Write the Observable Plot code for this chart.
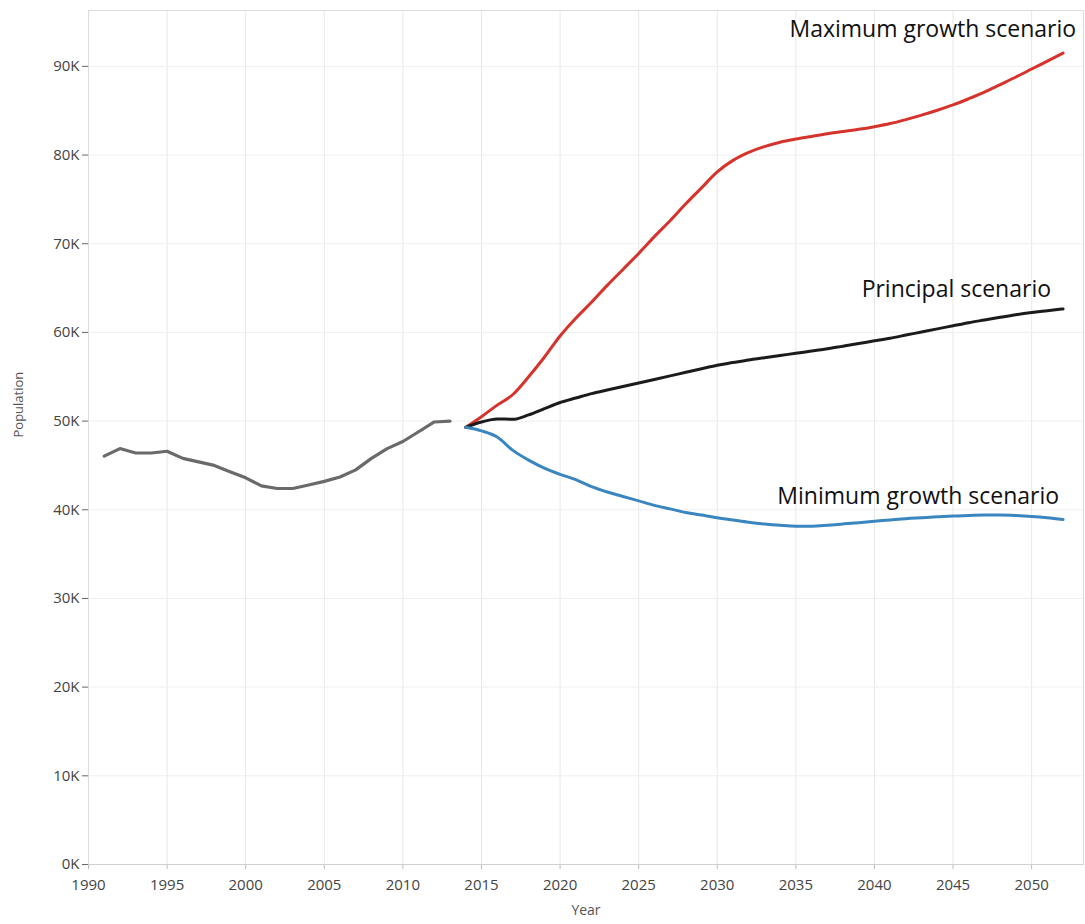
<!DOCTYPE html>
<html>
<head>
<meta charset="utf-8">
<script src="https://cdn.jsdelivr.net/npm/d3@7"></script>
<script src="https://cdn.jsdelivr.net/npm/@observablehq/plot@0.6"></script>
<style>
  html, body { margin: 0; padding: 0; background: #fff; }
  #chart svg { display: block; }
</style>
</head>
<body>
<div id="chart"></div>
<script>
// Historical population (thousands)
const histYears = [1991,1992,1993,1994,1995,1996,1997,1998,1999,2000,2001,2002,2003,2004,2005,2006,2007,2008,2009,2010,2011,2012,2013];
const histValues = [46.05,46.9,46.4,46.4,46.6,45.8,45.4,45.0,44.3,43.6,42.7,42.4,42.4,42.8,43.2,43.7,44.5,45.8,46.9,47.7,48.8,49.9,50.0];

// Projection years
const projYears = [2014,2015,2016,2017,2018,2019,2020,2021,2022,2023,2024,2025,2026,2027,2028,2029,2030,2031,2032,2033,2034,2035,2036,2037,2038,2039,2040,2041,2042,2043,2044,2045,2046,2047,2048,2049,2050,2051,2052];
const maxValues = [49.3,50.5,51.8,53.0,55.0,57.2,59.6,61.6,63.4,65.3,67.1,68.9,70.8,72.6,74.5,76.3,78.1,79.4,80.3,80.95,81.45,81.8,82.1,82.4,82.65,82.9,83.2,83.55,84.0,84.5,85.05,85.65,86.35,87.1,87.95,88.8,89.7,90.6,91.5];
const principalValues = [49.3,49.9,50.25,50.2,50.7,51.4,52.1,52.6,53.1,53.5,53.9,54.3,54.7,55.1,55.5,55.9,56.3,56.6,56.9,57.15,57.4,57.65,57.9,58.15,58.45,58.75,59.05,59.35,59.7,60.05,60.4,60.75,61.1,61.4,61.7,62.0,62.25,62.45,62.65];
const minValues = [49.3,48.9,48.2,46.7,45.6,44.7,44.0,43.4,42.6,42.0,41.5,41.0,40.5,40.1,39.7,39.4,39.1,38.85,38.6,38.4,38.25,38.15,38.15,38.25,38.4,38.55,38.7,38.85,39.0,39.1,39.2,39.3,39.35,39.4,39.4,39.35,39.25,39.1,38.9];

const xTicks = [1990,1995,2000,2005,2010,2015,2020,2025,2030,2035,2040,2045,2050];
const yTicks = [0,10,20,30,40,50,60,70,80,90];

const seriesNames = ["Maximum growth scenario","Principal scenario","Minimum growth scenario"];
const seriesColors = ["#d6332c","#1b1b1b","#3a86c0"];

const hist = histYears.map((y,i) => ({year: y, value: histValues[i] * 1000}));
const proj = [maxValues, principalValues, minValues].map((vals, s) =>
  projYears.map((y,i) => ({year: y, value: vals[i] * 1000, series: seriesNames[s]})));

const last = s => proj[s][proj[s].length - 1];

const labelFont = "'Open Sans', 'Noto Sans', sans-serif";

const chart = Plot.plot({
  width: 1085,
  height: 924,
  marginLeft: 88,
  marginRight: 2,
  marginTop: 10,
  marginBottom: 60,
  style: {fontFamily: "'Open Sans', 'DejaVu Sans', sans-serif", fontSize: "15px", color: "#555", background: "#fff"},
  x: {domain: [1990, 2053.3], ticks: xTicks, tickFormat: d => String(d), label: null},
  y: {domain: [0, 96300], ticks: yTicks.map(d => d * 1000), tickFormat: d => (d / 1000) + "K", label: null},
  marks: [
    Plot.gridX(xTicks, {stroke: "#e8e8e8", strokeOpacity: 1}),
    Plot.gridY(yTicks.map(d => d * 1000), {stroke: "#efefef", strokeOpacity: 1}),
    Plot.frame({stroke: "#dcdcdc"}),
    Plot.axisX({ticks: xTicks, tickFormat: d => String(d), tickSize: 5, tickPadding: 10, stroke: "#bbb", fill: "#444", fontSize: 15, label: null}),
    Plot.axisY({ticks: yTicks.map(d => d * 1000), tickFormat: d => (d / 1000) + "K", tickSize: 6, tickPadding: 3, stroke: "#666", fill: "#444", fontSize: 15, label: null}),
    Plot.ruleY([0], {stroke: "#d0d0d0"}),
    Plot.line(hist, {x: "year", y: "value", stroke: "#6a6a6a", strokeWidth: 3.2}),
    ...proj.map((d, s) => Plot.line(d, {x: "year", y: "value", stroke: seriesColors[s], strokeWidth: 3, curve: "monotone-x"})),
    Plot.text([last(0)], {x: "year", y: "value", text: "series", textAnchor: "end", dx: 13, dy: -23, fontSize: 23, fill: "#111", fontFamily: labelFont}),
    Plot.text([last(1)], {x: "year", y: "value", text: "series", textAnchor: "end", dx: -12, dy: -19, fontSize: 23, fill: "#111", fontFamily: labelFont}),
    Plot.text([last(2)], {x: "year", y: "value", text: "series", textAnchor: "end", dx: -4, dy: -23, fontSize: 23, fill: "#111", fontFamily: labelFont}),
    Plot.text(["Population"], {frameAnchor: "left", dx: -70, rotate: -90, fontSize: 13, fill: "#555"}),
    Plot.text(["Year"], {frameAnchor: "bottom", dy: 50, fontSize: 14, fill: "#555"})
  ]
});

document.getElementById("chart").appendChild(chart);
</script>
</body>
</html>
